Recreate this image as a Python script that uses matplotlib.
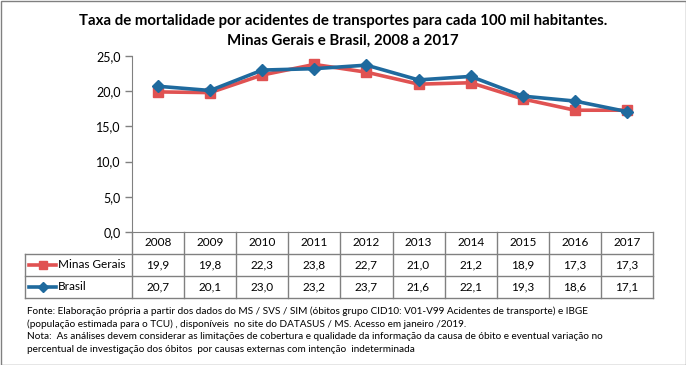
import matplotlib
matplotlib.use("Agg")
import matplotlib.pyplot as plt
from matplotlib.lines import Line2D
from matplotlib.patches import Rectangle

years = ["2008", "2009", "2010", "2011", "2012", "2013", "2014", "2015", "2016", "2017"]
minas = [19.9, 19.8, 22.3, 23.8, 22.7, 21.0, 21.2, 18.9, 17.3, 17.3]
brasil = [20.7, 20.1, 23.0, 23.2, 23.7, 21.6, 22.1, 19.3, 18.6, 17.1]
yticks = [0, 5, 10, 15, 20, 25]

title_lines = ["Taxa de mortalidade por acidentes de transportes para cada 100 mil habitantes.",
               "Minas Gerais e Brasil, 2008 a 2017"]
note = ("Fonte: Elaboração própria a partir dos dados do MS / SVS / SIM (óbitos grupo CID10: V01-V99 Acidentes de transporte) e IBGE\n"
        "(população estimada para o TCU) , disponíveis  no site do DATASUS / MS. Acesso em janeiro /2019.\n"
        "Nota:  As análises devem considerar as limitações de cobertura e qualidade da informação da causa de óbito e eventual variação no\n"
        "percentual de investigação dos óbitos  por causas externas com intenção  indeterminada")

RED = "#E05252"
BLUE = "#1F6A9E"
GRAY = "#808080"
FONT = "Lato"

W, H = 686, 365
fig = plt.figure(figsize=(W / 100, H / 100), dpi=100)
plt.rcParams['font.family'] = [FONT, 'DejaVu Sans']

def fx(px):
    return px / W

def fy(py):
    return 1 - py / H

# outer border
fig.patches.append(Rectangle((fx(0.5), fy(364.5)), fx(685), 364 / H, transform=fig.transFigure,
                             fill=False, edgecolor=GRAY, linewidth=1.0))

left, right, top, bottom = 132, 653, 56, 232
ax = fig.add_axes([fx(left), fy(bottom), fx(right - left), (bottom - top) / H])
n = len(years)
x = list(range(n))
ax.set_xlim(-0.5, n - 0.5)
ax.set_ylim(0, 25)
ax.plot(x, minas, color=RED, linewidth=2.6, marker="s", markersize=7, zorder=3)
ax.plot(x, brasil, color=BLUE, linewidth=2.6, marker="D", markersize=6, zorder=4)

for s in ["top", "right"]:
    ax.spines[s].set_visible(False)
ax.spines["left"].set_color(GRAY)
ax.spines["bottom"].set_color(GRAY)
ax.set_yticks(yticks)
ax.set_yticklabels([f"{v:.1f}".replace(".", ",") for v in yticks], fontsize=9)
ax.tick_params(axis="y", length=5, color=GRAY, pad=3, width=1)
ax.set_xticks([])

fig.text(0.5, fy(21), title_lines[0], ha="center", va="center", fontsize=10.8, fontweight="bold")
fig.text(0.5, fy(41), title_lines[1], ha="center", va="center", fontsize=10.8, fontweight="bold")

# data table
row_h = 22
tab_left = 25
rows_y = [bottom, bottom + row_h, bottom + 2 * row_h, bottom + 3 * row_h]
lw = 1.0
for ry in rows_y[1:]:
    fig.add_artist(Line2D([fx(tab_left), fx(right)], [fy(ry), fy(ry)], color=GRAY, lw=lw,
                          transform=fig.transFigure))
col_w = (right - left) / n
for k in range(n + 1):
    xp = left + k * col_w
    fig.add_artist(Line2D([fx(xp), fx(xp)], [fy(rows_y[0]), fy(rows_y[3])], color=GRAY, lw=lw,
                          transform=fig.transFigure))
fig.add_artist(Line2D([fx(tab_left), fx(tab_left)], [fy(rows_y[1]), fy(rows_y[3])], color=GRAY, lw=lw,
                      transform=fig.transFigure))

fs = 8.5
for i in range(n):
    xc = left + (i + 0.5) * col_w
    fig.text(fx(xc), fy(rows_y[0] + row_h / 2), years[i], ha="center", va="center", fontsize=fs)
    fig.text(fx(xc), fy(rows_y[1] + row_h / 2), f"{minas[i]:.1f}".replace(".", ","), ha="center", va="center", fontsize=fs)
    fig.text(fx(xc), fy(rows_y[2] + row_h / 2), f"{brasil[i]:.1f}".replace(".", ","), ha="center", va="center", fontsize=fs)

for r, (name, col, mk, ms) in enumerate([("Minas Gerais", RED, "s", 6), ("Brasil", BLUE, "D", 5)]):
    yc = rows_y[r + 1] + row_h / 2
    fig.add_artist(Line2D([fx(29), fx(56)], [fy(yc), fy(yc)], color=col, lw=2.6, transform=fig.transFigure))
    fig.add_artist(Line2D([fx(42.5)], [fy(yc)], color=col, marker=mk, markersize=ms, lw=0, transform=fig.transFigure))
    fig.text(fx(58), fy(yc), name, ha="left", va="center", fontsize=fs)

fig.text(fx(27), fy(306), note, ha="left", va="top", fontsize=7.2, linespacing=1.5)

fig.savefig("out.png", dpi=100)
